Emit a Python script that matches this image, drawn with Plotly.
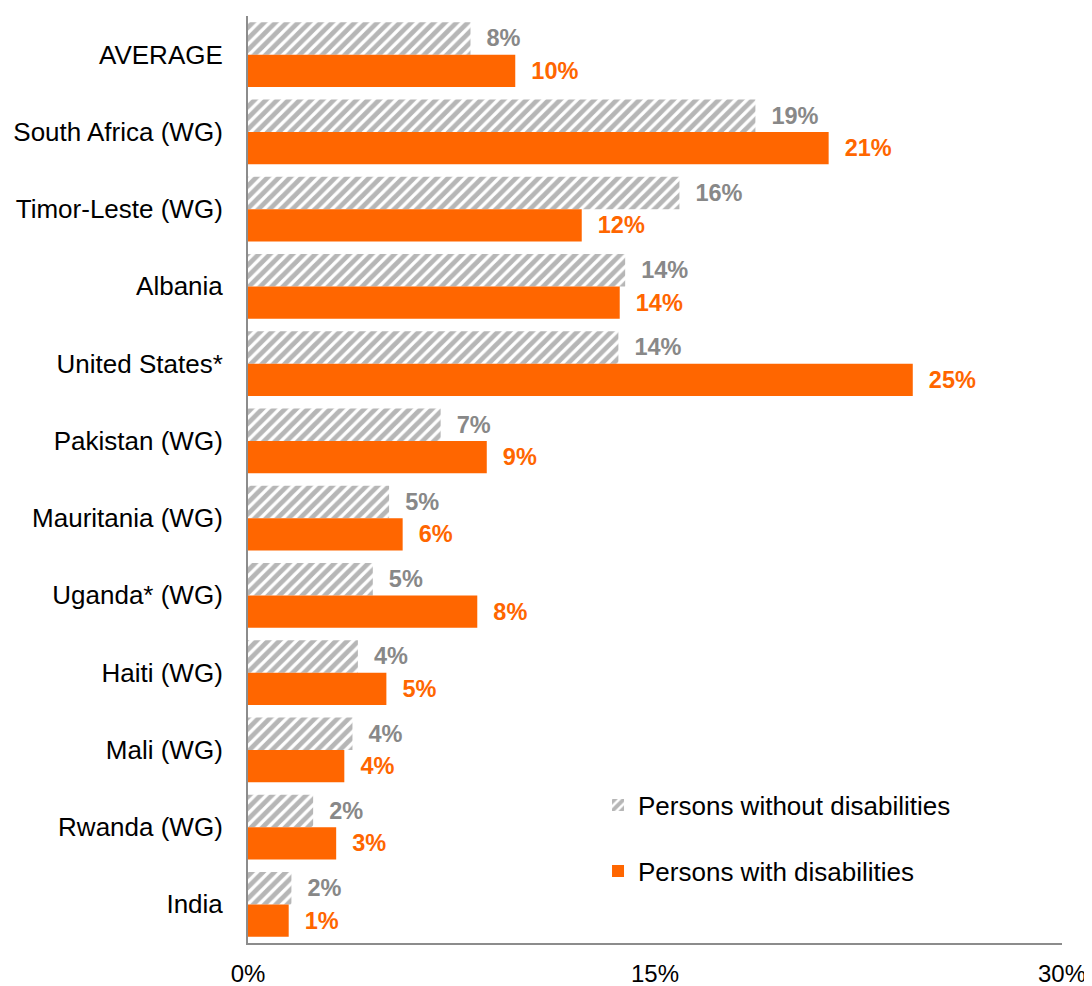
import plotly.graph_objects as go

categories = ["AVERAGE", "South Africa (WG)", "Timor-Leste (WG)", "Albania", "United States*",
              "Pakistan (WG)", "Mauritania (WG)", "Uganda* (WG)", "Haiti (WG)", "Mali (WG)",
              "Rwanda (WG)", "India"]
without_dis = [8.2, 18.7, 15.9, 13.9, 13.65, 7.1, 5.2, 4.6, 4.05, 3.85, 2.4, 1.6]
with_dis = [9.85, 21.4, 12.3, 13.7, 24.5, 8.8, 5.7, 8.45, 5.1, 3.55, 3.25, 1.5]
without_labels = ["8%", "19%", "16%", "14%", "14%", "7%", "5%", "5%", "4%", "4%", "2%", "2%"]
with_labels = ["10%", "21%", "12%", "14%", "25%", "9%", "6%", "8%", "5%", "4%", "3%", "1%"]
x_ticks = [0, 15, 30]
x_tick_text = ["0%", "15%", "30%"]

GRAY = "#6e6e6e"
ORANGE = "#FF6600"
FONT = "Liberation Sans, Arial, sans-serif"
PAD = "\u00a0\u00a0"

fig = go.Figure()
fig.add_trace(go.Bar(
    y=categories, x=without_dis, orientation="h", name="Persons without disabilities",
    marker=dict(color="white", line=dict(width=0),
                pattern=dict(shape="/", fgcolor=GRAY, bgcolor="white", size=8, solidity=0.6)),
    text=[PAD + t for t in without_labels], textposition="outside", cliponaxis=False,
    constraintext="none",
    textfont=dict(family=FONT, size=23.5, color="#888888", weight="bold"),
    legendgroup="a",
))
fig.add_trace(go.Bar(
    y=categories, x=with_dis, orientation="h", name="Persons with disabilities",
    marker=dict(color=ORANGE, line=dict(width=0)),
    text=[PAD + t for t in with_labels], textposition="outside", cliponaxis=False,
    constraintext="none",
    textfont=dict(family=FONT, size=23.5, color=ORANGE, weight="bold"),
    legendgroup="b",
))

# the page adds an 8px body margin, so the figure is sized/offset to compensate
fig.update_layout(
    width=1084, height=978,
    margin=dict(l=240, r=30, t=8, b=43),
    paper_bgcolor="white", plot_bgcolor="white",
    barmode="group", bargap=0.16, bargroupgap=0,
    font=dict(family=FONT, size=26, color="black"),
    showlegend=True,
    legend=dict(x=0.43, y=0.174, xanchor="left", yanchor="top",
                traceorder="grouped", tracegroupgap=29,
                font=dict(family=FONT, size=26, color="black"),
                bgcolor="rgba(0,0,0,0)"),
    xaxis=dict(range=[0, 30], tickvals=x_ticks, ticktext=x_tick_text, showgrid=False,
               zeroline=False, showline=True, linecolor="#8c8c8c", linewidth=2,
               ticks="outside", ticklen=8, tickcolor="rgba(0,0,0,0)", automargin=False,
               ticklabeloverflow="allow",
               tickfont=dict(family=FONT, size=24, color="black")),
    yaxis=dict(autorange="reversed", showgrid=False, zeroline=False, showline=True,
               linecolor="#8c8c8c", linewidth=2, ticks="outside", ticklen=18,
               tickcolor="rgba(0,0,0,0)", automargin=False,
               tickfont=dict(family=FONT, size=26, color="black")),
)

fig.write_html("out.html")
